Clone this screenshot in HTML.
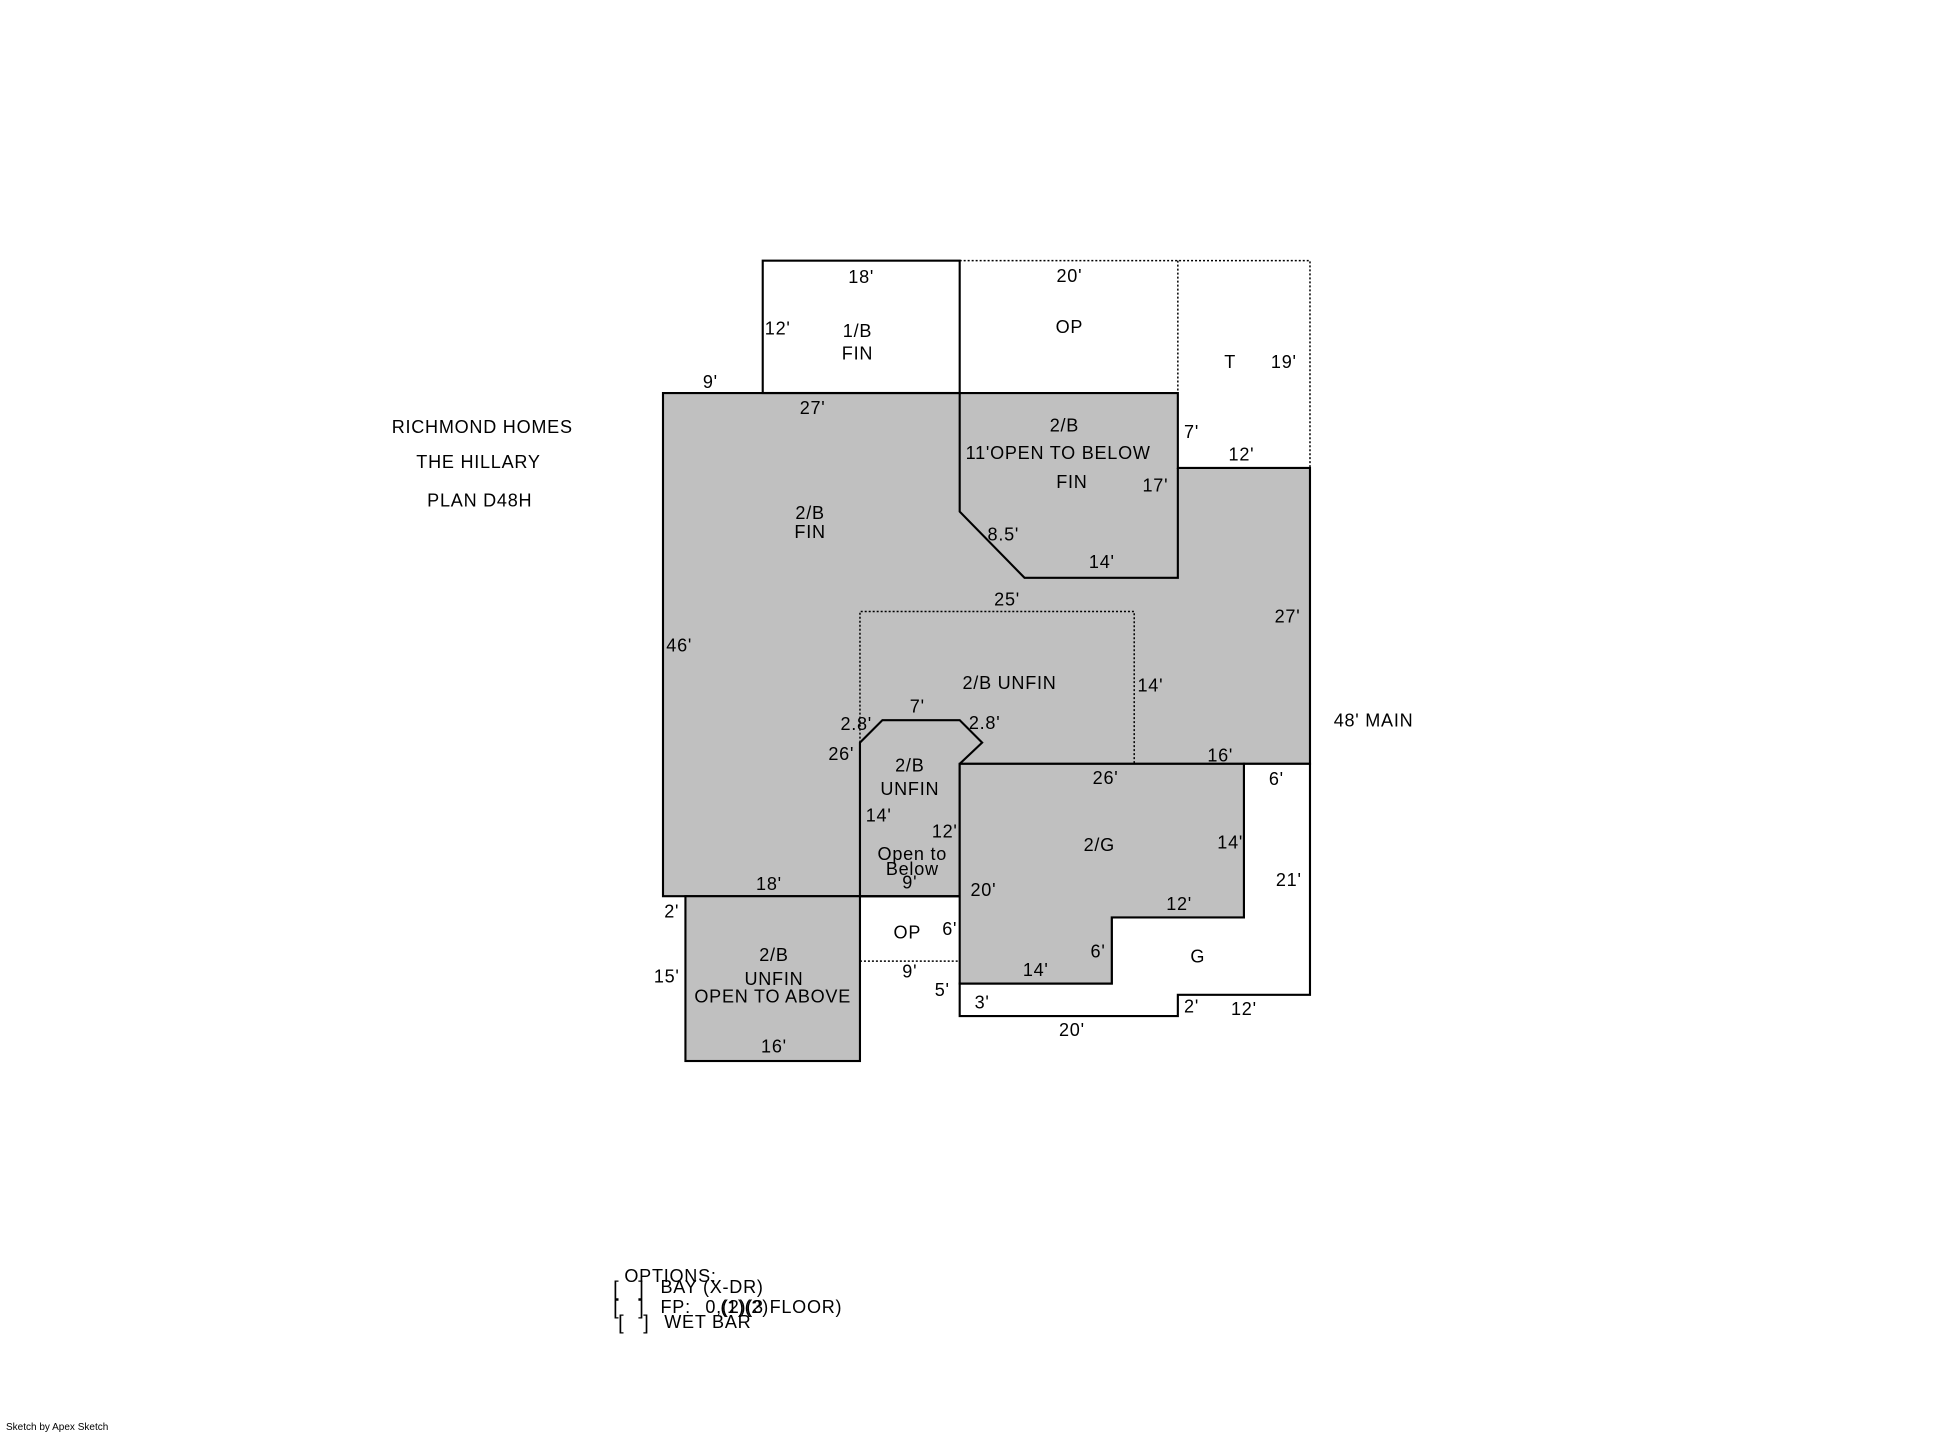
<!DOCTYPE html>
<html><head><meta charset="utf-8"><style>
html,body{margin:0;padding:0;background:#fff;}
svg{display:block;}
text{font-family:"Liberation Sans",sans-serif;fill:#000;}
g.t text{letter-spacing:0.6px;}
</style></head><body>
<svg width="1958" height="1436" viewBox="0 0 1958 1436" xmlns="http://www.w3.org/2000/svg">
<rect width="1958" height="1436" fill="#fff"/>
<g transform="translate(2.3,-0.3) scale(1.2466,1.2486)">
<g stroke="#000" stroke-width="1.7" stroke-linejoin="miter">
 <polygon points="530,315 943,315 943,375 1049,375 1049,612 768,612 768,718 530,718" fill="#c0c0c0"/>
 <rect x="610" y="209" width="158" height="106" fill="#fff"/>
 <polyline points="768,315 768,410 820,463 943,463 943,375" fill="none"/>
 <polygon points="688,718 688,595 706,577 768,577 786,595 768,612 768,718" fill="#c0c0c0"/>
 <polygon points="996,612 1049,612 1049,797 943,797 943,814 768,814 768,788 890,788 890,735 996,735" fill="#fff"/>
 <polygon points="768,612 996,612 996,735 890,735 890,788 768,788" fill="#c0c0c0"/>
 <line x1="688" y1="718" x2="768" y2="718"/>
 <rect x="548" y="718" width="140" height="132" fill="#c0c0c0"/>
</g>
<g stroke="#000" stroke-width="1.2" stroke-dasharray="1.6,1.6" fill="none">
 <polyline points="768,209 1049,209 1049,375"/>
 <line x1="943" y1="209" x2="943" y2="315"/>
 <polyline points="688,595 688,490 908,490 908,612"/>
 <line x1="688" y1="770" x2="768" y2="770"/>
</g>
<g class="t" font-size="14.5" text-anchor="middle">
 <text x="385" y="347">RICHMOND HOMES</text>
 <text x="382" y="375">THE HILLARY</text>
 <text x="383" y="406">PLAN D48H</text>
 <text x="689" y="227">18'</text>
 <text x="622" y="268">12'</text>
 <text x="686" y="270">1/B</text>
 <text x="686" y="288">FIN</text>
 <text x="568" y="311">9'</text>
 <text x="856" y="226">20'</text>
 <text x="856" y="267">OP</text>
 <text x="985" y="295">T</text>
 <text x="1028" y="295">19'</text>
 <text x="650" y="332">27'</text>
 <text x="852" y="346">2/B</text>
 <text x="847" y="368">11'OPEN TO BELOW</text>
 <text x="858" y="391">FIN</text>
 <text x="954" y="351">7'</text>
 <text x="994" y="369">12'</text>
 <text x="925" y="394">17'</text>
 <text x="648" y="416">2/B</text>
 <text x="648" y="431">FIN</text>
 <text x="803" y="433">8.5'</text>
 <text x="882" y="455">14'</text>
 <text x="806" y="485">25'</text>
 <text x="1031" y="499">27'</text>
 <text x="543" y="522">46'</text>
 <text x="808" y="552">2/B UNFIN</text>
 <text x="921" y="554">14'</text>
 <text x="734" y="571">7'</text>
 <text x="685" y="585">2.8'</text>
 <text x="788" y="584">2.8'</text>
 <text x="1100" y="582">48' MAIN</text>
 <text x="673" y="609">26'</text>
 <text x="977" y="610">16'</text>
 <text x="728" y="618">2/B</text>
 <text x="728" y="637">UNFIN</text>
 <text x="885" y="628">26'</text>
 <text x="1022" y="629">6'</text>
 <text x="703" y="658">14'</text>
 <text x="756" y="671">12'</text>
 <text x="880" y="682">2/G</text>
 <text x="985" y="680">14'</text>
 <text x="730" y="689">Open to</text>
 <text x="730" y="701">Below</text>
 <text x="728" y="712">9'</text>
 <text x="615" y="713">18'</text>
 <text x="1032" y="710">21'</text>
 <text x="787" y="718">20'</text>
 <text x="944" y="729">12'</text>
 <text x="537" y="735">2'</text>
 <text x="726" y="752">OP</text>
 <text x="760" y="749">6'</text>
 <text x="619" y="770">2/B</text>
 <text x="959" y="771">G</text>
 <text x="879" y="767">6'</text>
 <text x="829" y="782">14'</text>
 <text x="533" y="787">15'</text>
 <text x="619" y="789">UNFIN</text>
 <text x="618" y="803">OPEN TO ABOVE</text>
 <text x="728" y="783">9'</text>
 <text x="754" y="798">5'</text>
 <text x="786" y="808">3'</text>
 <text x="954" y="811">2'</text>
 <text x="996" y="813">12'</text>
 <text x="858" y="830">20'</text>
 <text x="619" y="843">16'</text>
</g>
<g class="t" font-size="14.5">
 <text x="499" y="1027">OPTIONS:</text>
 <text x="490" y="1038" font-size="16">[&#160;&#160;&#160;]</text>
 <text x="528" y="1036">BAY (X-DR)</text>
 <text x="490" y="1053" font-size="16">[&#160;&#160;&#160;]</text>
 <text x="528" y="1052">FP:</text>
 <text x="564" y="1052">0,(2)(3 FLOOR)</text>
 <text x="576" y="1052">(1)(2)</text>
 <text x="494" y="1065" font-size="16">[&#160;&#160;&#160;]</text>
 <text x="531" y="1064">WET BAR</text>
</g>
</g>
<text x="6" y="1430" font-size="10">Sketch by Apex Sketch</text>
</svg>
</body></html>
